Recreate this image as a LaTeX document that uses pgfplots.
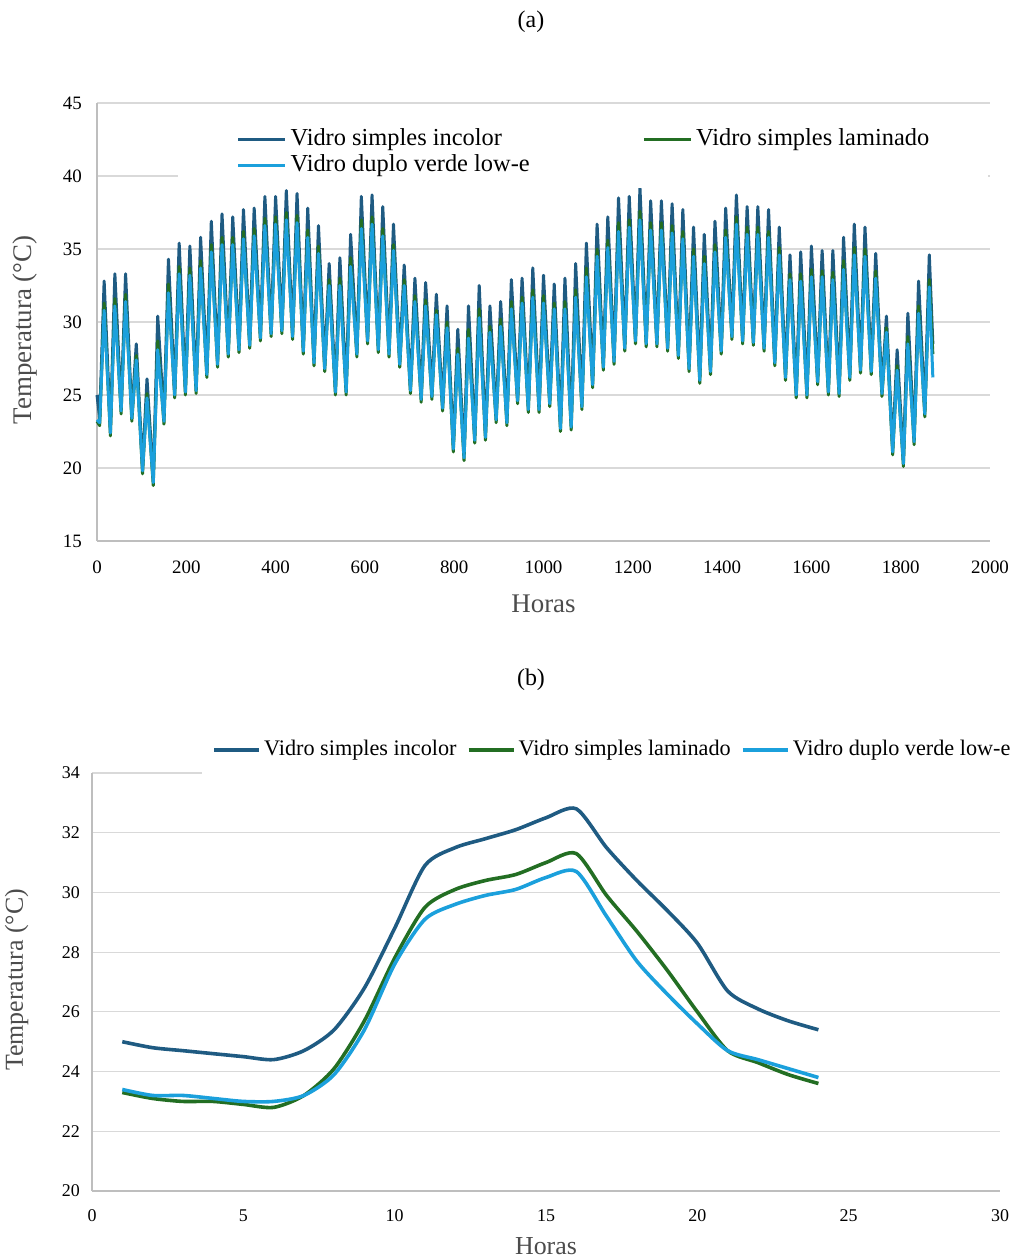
\documentclass[border=0pt]{standalone}
\usepackage{pgfplots}
\usepackage{pgfplotstable}
\pgfplotsset{compat=1.18}
\usepackage{fontspec}
\setmainfont{Liberation Serif}
\definecolor{cinc}{RGB}{31,91,130}
\definecolor{clam}{RGB}{35,110,35}
\definecolor{clow}{RGB}{27,160,220}
\definecolor{cgrid}{RGB}{217,217,217}
\definecolor{caxis}{RGB}{190,190,190}

\pgfplotstableread{
h inc lam low
0 25.0 23.2 23.3
6 23.4 22.9 23.1
16 32.8 31.3 30.8
30 22.7 22.2 22.4
40 33.3 31.6 31.1
54 24.2 23.7 23.9
64 33.3 31.9 31.4
78 23.7 23.2 23.4
88 28.5 27.7 27.4
102 20.1 19.6 19.8
112 26.1 25.1 24.8
126 19.3 18.8 19.0
136 30.4 28.7 28.1
150 23.5 23.0 23.2
160 34.3 32.6 32.0
174 25.3 24.8 25.0
184 35.4 33.8 33.3
198 25.5 25.0 25.2
208 35.2 33.7 33.2
222 25.6 25.1 25.3
232 35.8 34.2 33.7
246 26.7 26.2 26.4
256 36.9 35.3 34.8
270 27.4 26.9 27.1
280 37.4 35.8 35.3
294 28.1 27.6 27.8
304 37.2 35.8 35.3
318 28.4 27.9 28.1
328 37.7 36.2 35.7
342 28.7 28.2 28.4
352 37.8 36.4 35.9
366 29.2 28.7 28.9
376 38.6 37.1 36.6
390 29.5 29.0 29.2
400 38.6 37.2 36.7
414 29.7 29.2 29.4
424 39.0 37.5 37.0
438 29.3 28.8 29.0
448 38.8 37.3 36.8
462 28.3 27.8 28.0
472 37.8 36.3 35.8
486 27.5 27.0 27.2
496 36.6 35.2 34.7
510 27.1 26.6 26.8
520 34.0 32.9 32.5
534 25.5 25.0 25.2
544 34.4 33.0 32.5
558 25.5 25.0 25.2
568 36.0 34.4 33.8
582 28.1 27.6 27.8
592 38.6 37.0 36.4
606 29.0 28.5 28.7
616 38.7 37.2 36.7
630 28.4 27.9 28.1
640 37.9 36.4 35.9
654 28.1 27.6 27.8
664 36.7 35.3 34.9
678 27.4 26.9 27.1
688 33.9 32.9 32.5
702 25.6 25.1 25.3
712 33.0 31.8 31.4
726 25.0 24.5 24.7
736 32.7 31.5 31.1
750 25.2 24.7 24.9
760 31.9 30.8 30.5
774 24.4 23.9 24.1
784 31.1 30.0 29.6
798 21.6 21.1 21.3
808 29.5 28.2 27.8
822 21.0 20.5 20.7
832 31.1 29.5 28.9
846 22.2 21.7 21.9
856 32.5 30.9 30.3
870 22.4 21.9 22.1
880 31.1 29.7 29.3
894 23.6 23.1 23.3
904 31.4 30.2 29.7
918 23.4 22.9 23.1
928 32.9 31.4 30.9
942 24.9 24.4 24.6
952 33.0 31.7 31.3
966 24.3 23.8 24.0
976 33.7 32.2 31.7
990 24.3 23.8 24.0
1000 33.2 31.8 31.3
1014 24.7 24.2 24.4
1024 32.6 31.3 30.9
1038 23.0 22.5 22.7
1048 33.0 31.4 30.9
1062 23.1 22.6 22.8
1072 34.0 32.2 31.7
1086 24.5 24.0 24.2
1096 35.4 33.7 33.1
1110 26.0 25.5 25.7
1120 36.7 35.0 34.5
1134 27.2 26.7 26.9
1144 37.2 35.6 35.1
1158 27.6 27.1 27.3
1168 38.5 36.8 36.2
1182 28.5 28.0 28.2
1192 38.6 37.0 36.5
1206 29.0 28.5 28.7
1216 39.2 37.6 37.0
1230 28.8 28.3 28.5
1240 38.3 36.8 36.3
1254 28.8 28.3 28.5
1264 38.3 36.8 36.3
1278 28.5 28.0 28.2
1288 38.1 36.6 36.1
1302 28.0 27.5 27.7
1312 37.7 36.2 35.7
1326 27.1 26.6 26.8
1336 36.5 35.0 34.5
1350 26.3 25.8 26.0
1360 36.0 34.5 34.0
1374 26.9 26.4 26.6
1384 36.9 35.3 34.8
1398 28.3 27.8 28.0
1408 37.8 36.3 35.8
1422 29.3 28.8 29.0
1432 38.7 37.2 36.7
1446 29.0 28.5 28.7
1456 37.9 36.5 36.0
1470 28.9 28.4 28.6
1480 37.9 36.5 36.0
1494 28.5 28.0 28.2
1504 37.7 36.2 35.8
1518 27.5 27.0 27.2
1528 36.5 35.1 34.6
1542 26.5 26.0 26.2
1552 34.6 33.3 32.9
1566 25.3 24.8 25.0
1576 34.8 33.3 32.8
1590 25.3 24.8 25.0
1600 35.2 33.6 33.1
1614 26.2 25.7 25.9
1624 34.9 33.5 33.1
1638 25.5 25.0 25.2
1648 34.9 33.4 32.9
1662 25.4 24.9 25.1
1672 35.8 34.2 33.6
1686 26.5 26.0 26.2
1696 36.7 35.1 34.6
1710 27.0 26.5 26.7
1720 36.5 35.0 34.5
1734 26.9 26.4 26.6
1744 34.7 33.5 33.0
1758 25.4 24.9 25.1
1768 30.4 29.6 29.3
1782 21.4 20.9 21.1
1792 28.1 27.0 26.7
1806 20.6 20.1 20.3
1816 30.6 29.0 28.5
1830 22.1 21.6 21.8
1840 32.8 31.1 30.6
1854 24.0 23.5 23.7
1864 34.6 32.9 32.4
1872 28.5 27.8 26.2
}\topdata

\pgfplotstableread{
h inc lam low
1 25.0 23.3 23.4
2 24.8 23.1 23.2
3 24.7 23.0 23.2
4 24.6 23.0 23.1
5 24.5 22.9 23.0
6 24.4 22.8 23.0
7 24.7 23.2 23.2
8 25.4 24.1 23.9
9 26.8 25.7 25.4
10 28.8 27.8 27.6
11 30.9 29.5 29.1
12 31.5 30.1 29.6
13 31.8 30.4 29.9
14 32.1 30.6 30.1
15 32.5 31.0 30.5
16 32.8 31.3 30.7
17 31.5 29.9 29.2
18 30.4 28.7 27.7
19 29.4 27.4 26.6
20 28.3 26.0 25.6
21 26.7 24.7 24.7
22 26.1 24.3 24.4
23 25.7 23.9 24.1
24 25.4 23.6 23.8
}\bottomdata

\pgfplotsset{
  common/.style={
    scale only axis,
    anchor=south west,
    axis x line*=bottom,
    axis y line*=left,
    axis line style={caxis, line width=1.2bp},
    ymajorgrids,
    grid style={cgrid, line width=1.2bp},
    major tick length=0pt,
    tick style={draw=none},
    /pgf/number format/assume math mode=true,
    /pgf/number format/1000 sep={},
    legend cell align=left,
    clip=false,
  }
}

\begin{document}
\begin{tikzpicture}[x=1bp,y=1bp]
\path[use as bounding box] (0,0) rectangle (1016,1260);
\node[font=\fontsize{24}{28}\selectfont] at (531,1238) {(a)};
\node[font=\fontsize{24}{28}\selectfont] at (531,580) {(b)};

\begin{axis}[common,
  at={(97bp,719bp)}, width=893bp, height=438bp,
  xmin=0, xmax=2000, ymin=15, ymax=45,
  xtick={0,200,...,2000}, ytick={15,20,...,45},
  tick label style={font=\fontsize{19}{22}\selectfont, inner sep=0pt},
  yticklabel style={anchor=east, xshift=-15bp},
  xticklabel style={anchor=center, yshift=-26bp},
  xlabel={Horas}, ylabel={Temperatura (°C)},
  label style={font=\fontsize{27}{30}\selectfont, text=black!70},
  xlabel style={at={(axis description cs:0.5,-0.144)}, anchor=center},
  ylabel style={at={(axis description cs:-0.081,0.482)}, anchor=center},
  legend columns=2,
  legend style={at={(rel axis cs:0.0907,0.968)}, anchor=north west,
    fill=white, draw=none, inner xsep=59bp, inner ysep=12bp,
    font=\fontsize{24.5}{27}\selectfont, row sep=5bp,
    nodes={inner sep=0pt, text height=16bp, text depth=5bp},
    /tikz/every odd column/.append style={column sep=4bp},
    /tikz/every even column/.append style={column sep=113bp}},
  legend image code/.code={\draw[#1, line width=2.4bp] (0bp,0bp) -- (47bp,0bp);},
]
\addplot[cinc, line width=3bp, line join=round] table[x=h, y=inc] {\topdata};
\addlegendentry{Vidro simples incolor}
\addplot[clam, line width=3bp, line join=round] table[x=h, y=lam] {\topdata};
\addlegendentry{Vidro simples laminado}
\addplot[clow, line width=3bp, line join=round] table[x=h, y=low] {\topdata};
\addlegendentry{Vidro duplo verde low-e}
\end{axis}

\begin{axis}[common,
  at={(92bp,69bp)}, width=908bp, height=418bp,
  xmin=0, xmax=30, ymin=20, ymax=34,
  xtick={0,5,...,30}, ytick={20,22,...,34},
  tick label style={font=\fontsize{18}{21}\selectfont, inner sep=0pt},
  yticklabel style={anchor=east, xshift=-12bp},
  xticklabel style={anchor=center, yshift=-25bp},
  xlabel={Horas}, ylabel={Temperatura (°C)},
  label style={font=\fontsize{26}{29}\selectfont, text=black!70},
  xlabel style={at={(axis description cs:0.5,-0.132)}, anchor=center},
  ylabel style={at={(axis description cs:-0.083,0.505)}, anchor=center},
  legend columns=3,
  legend style={at={(rel axis cs:0.1244,1.0)}, anchor=south west, yshift=-6bp, xshift=-3bp,
    fill=white, draw=none, inner xsep=10bp, inner ysep=18bp,
    font=\fontsize{22.3}{25}\selectfont,
    nodes={inner sep=0pt, text height=16bp, text depth=5bp},
    /tikz/every odd column/.append style={column sep=3bp},
    /tikz/every even column/.append style={column sep=10bp}},
  legend image code/.code={\draw[#1, line width=4bp] (0bp,0bp) -- (45bp,0bp);},
]
\addplot[cinc, line width=3.6bp, smooth, tension=0.45] table[x=h, y=inc] {\bottomdata};
\addlegendentry{Vidro simples incolor}
\addplot[clam, line width=3.6bp, smooth, tension=0.45] table[x=h, y=lam] {\bottomdata};
\addlegendentry{Vidro simples laminado}
\addplot[clow, line width=3.6bp, smooth, tension=0.45] table[x=h, y=low] {\bottomdata};
\addlegendentry{Vidro duplo verde low-e}
\end{axis}
\end{tikzpicture}
\end{document}
